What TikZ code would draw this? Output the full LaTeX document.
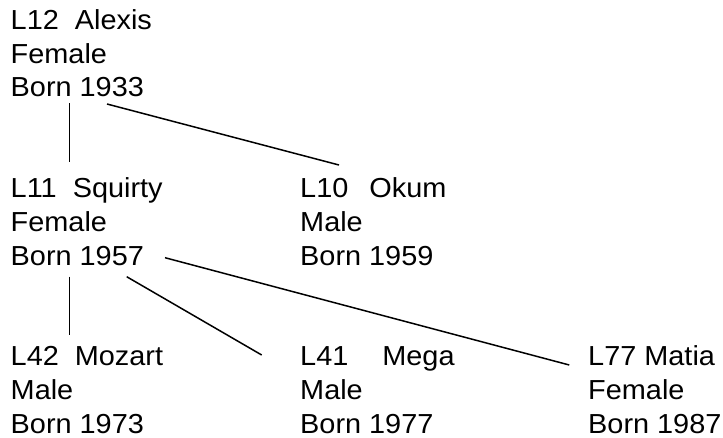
\documentclass[tikz,border=0pt]{standalone}
\usepackage{fontspec}
\setmainfont{Liberation Sans}[FakeStretch=1.05]
\usetikzlibrary{calc}
\begin{document}
\begin{tikzpicture}[x=1pt,y=-1pt,
  person/.style={anchor=base west, inner sep=0pt, align=left,
    font=\fontsize{27.5}{33.7}\selectfont},
  link/.style={line width=1.5pt}]
\useasboundingbox (0,0) rectangle (723,437);
% generation 1 (nodes are placed by the baseline of their last line)
\node[person] (alexis)  at (10.5,96.7) {L12\ \ Alexis\\Female\\Born 1933};
% generation 2
\node[person] (squirty) at (10.5,265)  {L11\ \ Squirty\\Female\\Born 1957};
\node[person] (okum)    at (300,265)   {L10\hspace{21pt}Okum\\Male\\Born 1959};
% generation 3
\node[person] (mozart)  at (10.5,433)  {L42\ \ Mozart\\Male\\Born 1973};
\node[person] (mega)    at (300,433)   {L41\hspace{34pt}Mega\\Male\\Born 1977};
\node[person] (matia)   at (588,433)   {L77 Matia\\Female\\Born 1987};
% descent lines
\draw[link] ($(alexis.base west)+(59.2,6.3)$)     -- ($(squirty.base west)+(59.2,-103)$);
\draw[link] ($(alexis.base west)+(96.5,7.3)$)     -- ($(okum.base west)+(39,-100)$);
\draw[link] ($(squirty.base west)+(59.2,11.7)$)   -- ($(mozart.base west)+(59.2,-98)$);
\draw[link] ($(squirty.base west)+(116.2,11.7)$)  -- ($(mega.base west)+(-38.3,-78)$);
\draw[link] ($(squirty.base west)+(154.5,-7.3)$)  -- ($(matia.base west)+(-18.7,-68)$);
\end{tikzpicture}
\end{document}
